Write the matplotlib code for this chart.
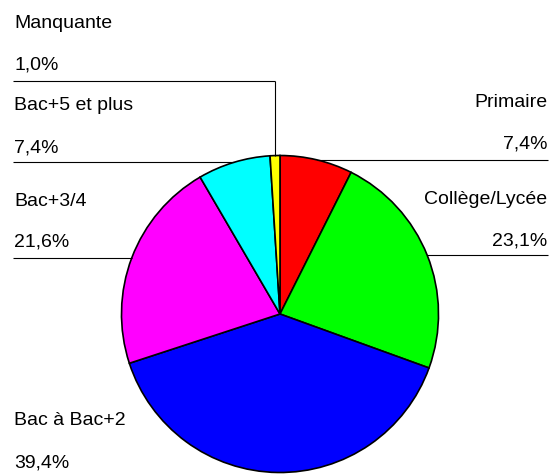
import matplotlib
matplotlib.use('Agg')
import matplotlib.pyplot as plt
import numpy as np

# niveaux de diplome (sens horaire depuis midi)
labels = ['Primaire', 'Collège/Lycée', 'Bac à Bac+2', 'Bac+3/4', 'Bac+5 et plus', 'Manquante']
values = [7.4, 23.1, 39.4, 21.6, 7.4, 1.0]
pct_text = ['7,4%', '23,1%', '39,4%', '21,6%', '7,4%', '1,0%']
colors = ['#ff0000', '#00ff00', '#0000ff', '#ff00ff', '#00ffff', '#ffff00']

W, H = 549, 474
plt.rcParams['font.family'] = ['Liberation Sans', 'DejaVu Sans']

fig = plt.figure(figsize=(W / 100, H / 100), dpi=100)
ax = fig.add_axes([0, 0, 1, 1])

cx, cy, r = 280, H - 314, 158.5
wedges, _ = ax.pie(values, colors=colors, startangle=90, counterclock=False,
                   center=(cx, cy), radius=r,
                   wedgeprops=dict(edgecolor='black', linewidth=1.2))

ax.set_xlim(0, W)
ax.set_ylim(0, H)
ax.set_aspect('equal')
ax.axis('off')

def edge_point(w):
    t = np.deg2rad((w.theta1 + w.theta2) / 2)
    return cx + r * np.cos(t), cy + r * np.sin(t)

# (cote, x texte, baseline nom, baseline valeur) en pixels depuis le haut
layout = {
    'Primaire':      ('right', 547, 106.7, 148.3),
    'Collège/Lycée': ('right', 547, 204, 245),
    'Bac à Bac+2':   ('left', 14, 425, 467),
    'Bac+3/4':       ('left', 14, 206, 246.7),
    'Bac+5 et plus': ('left', 14, 110, 152.3),
    'Manquante':     ('left', 14, 27.7, 69),
}

fs = 14
lc = dict(color='black', lw=0.8, solid_capstyle='butt')
for w, lab, pt in zip(wedges, labels, pct_text):
    side, tx, yn, yv = layout[lab]
    ha = 'left' if side == 'left' else 'right'
    ax.text(tx, H - yn, lab, ha=ha, va='baseline', fontsize=fs)
    ax.text(tx, H - yv, pt, ha=ha, va='baseline', fontsize=fs)

    px, py = edge_point(w)
    if lab == 'Bac à Bac+2':
        continue
    if lab == 'Manquante':
        ly = H - 81
        ax.plot([px, px], [py, ly], **lc)
        ax.plot([13, px], [ly, ly], **lc)
    elif side == 'left':
        ax.plot([13, px], [py, py], **lc)
    else:
        ax.plot([px, 548], [py, py], **lc)

fig.savefig('out.png', dpi=100, facecolor='white')
